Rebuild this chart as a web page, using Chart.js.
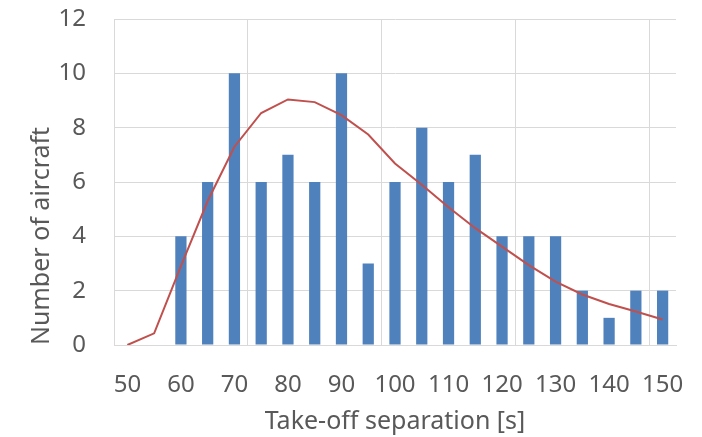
<!DOCTYPE html>
<html>
<head>
<meta charset="utf-8">
<script src="https://cdn.jsdelivr.net/npm/chart.js@4/dist/chart.umd.min.js"></script>
<style>
html,body{margin:0;padding:0;background:#fff;}
#c{display:block;}
</style>
</head>
<body>
<canvas id="c" width="702" height="437"></canvas>
<script>
const categories = [50,55,60,65,70,75,80,85,90,95,100,105,110,115,120,125,130,135,140,145,150];
const aircraftCounts = [null,null,4,6,10,6,7,6,10,3,6,8,6,7,4,4,4,2,1,2,2];
const fittedCurve = [0,0.43,2.9,5.3,7.3,8.54,9.04,8.94,8.46,7.75,6.68,5.9,5.07,4.3,3.62,2.94,2.33,1.86,1.51,1.23,0.94];
const yTicks = [0,2,4,6,8,10,12];
const xTitle = 'Take-off separation [s]';
const yTitle = 'Number of aircraft';

const FONT = "'Noto Sans', 'Open Sans', sans-serif";
const GREY = '#595959';
const GRID = '#d9d9d9';

new Chart(document.getElementById('c'), {
  data: {
    labels: categories.map(String),
    datasets: [
      {
        type: 'line',
        data: fittedCurve,
        borderColor: '#C0504D',
        borderWidth: 2,
        pointRadius: 0,
        tension: 0,
        fill: false,
        order: 0
      },
      {
        type: 'bar',
        data: aircraftCounts,
        backgroundColor: '#4F81BD',
        borderWidth: 0,
        categoryPercentage: 1,
        barPercentage: 0.42,
        order: 1
      }
    ]
  },
  options: {
    responsive: false,
    animation: false,
    devicePixelRatio: 1,
    plugins: { legend: { display: false }, tooltip: { enabled: false } },
    layout: { padding: { left: 0, right: 26, top: 19, bottom: 0 } },
    scales: {
      x: {
        type: 'category',
        offset: true,
        grid: {
          offset: true,
          drawTicks: false,
          color: (ctx) => (ctx.index !== undefined && ctx.index % 5 === 0) ? GRID : 'rgba(0,0,0,0)',
          lineWidth: 1
        },
        border: { display: true, color: GRID, width: 1 },
        ticks: {
          autoSkip: false,
          maxRotation: 0,
          minRotation: 0,
          padding: 26,
          color: GREY,
          font: { family: FONT, size: 24 },
          callback: function(val, idx) { return idx % 2 === 0 ? this.getLabelForValue(val) : ''; }
        },
        title: {
          display: true,
          text: xTitle,
          color: GREY,
          font: { family: FONT, size: 25 },
          padding: { top: 0, bottom: 0 }
        },
        afterFit: (s) => { s.height = 92; s.paddingLeft = 0; s.paddingRight = 0; }
      },
      y: {
        min: 0,
        max: 12,
        afterBuildTicks: (s) => { s.ticks = yTicks.map(v => ({ value: v })); },
        grid: { color: GRID, lineWidth: 1, drawTicks: false },
        border: { display: true, color: GRID, width: 1 },
        ticks: {
          padding: 28,
          color: GREY,
          font: { family: FONT, size: 24 }
        },
        title: {
          display: true,
          text: yTitle,
          align: 'start',
          color: GREY,
          font: { family: FONT, size: 25 },
          padding: { top: 27, bottom: 0 }
        },
        afterFit: (s) => { s.width = 114; s.paddingTop = 0; s.paddingBottom = 0; }
      }
    }
  }
});
</script>
</body>
</html>
